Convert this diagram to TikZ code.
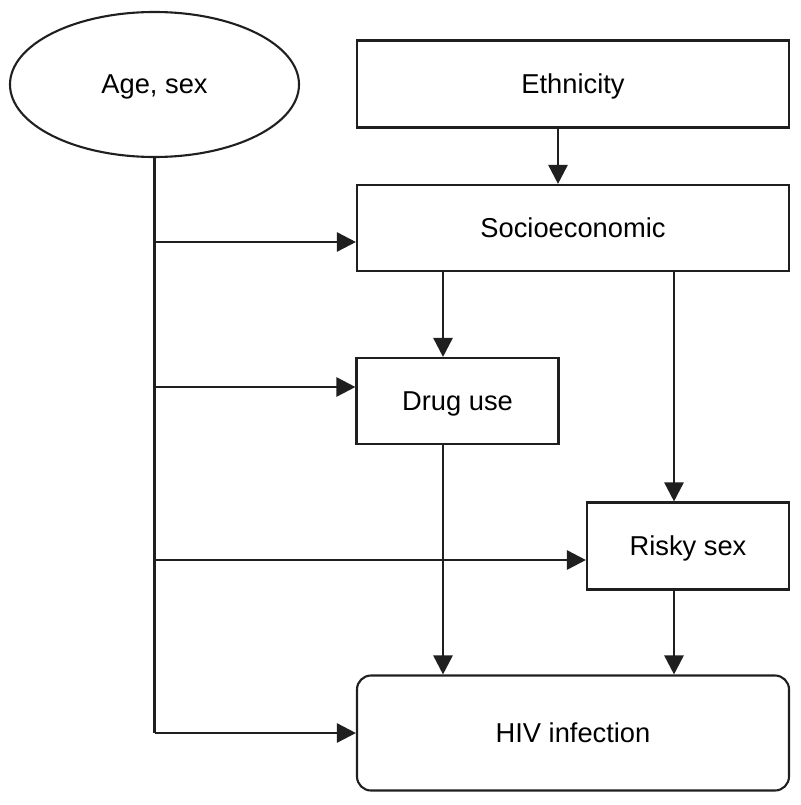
\documentclass[tikz,border=0pt]{standalone}
\usepackage{fontspec}
\setmainfont{Liberation Sans}
\usetikzlibrary{arrows.meta,shapes.geometric}
\begin{document}
\begin{tikzpicture}[x=1pt,y=-1pt,
  box/.style={draw=black!88, line width=2.1pt, inner sep=0pt, text depth=0pt, font=\fontsize{27.3}{32}\selectfont},
  arr/.style={draw=black!88, line width=2.6pt, -{Triangle[length=19pt,width=19pt]}},
  ln/.style={draw=black!88, line width=2.1pt}]
\useasboundingbox[fill=white] (0,0) rectangle (800,805);
\node[box, ellipse, minimum width=289pt, minimum height=145pt] (age) at (154.5,84.5) {Age, sex};
\node[box, minimum width=432pt, minimum height=87pt] (eth) at (573,84) {Ethnicity};
\node[box, minimum width=432pt, minimum height=86pt] (soc) at (573,228) {Socioeconomic};
\node[box, minimum width=202pt, minimum height=86pt] (drug) at (457.5,401) {Drug use};
\node[box, minimum width=202pt, minimum height=87pt] (risk) at (688,546) {Risky sex};
\node[box, rounded corners=14pt, minimum width=432pt, minimum height=115pt] (hiv) at (573,733) {HIV infection};
\coordinate (xe) at (558,0);
\coordinate (xd) at (443,0);
\coordinate (xr) at (674,0);
\coordinate (j1) at (154.5,242);
\coordinate (j2) at (154.5,387);
\coordinate (j3) at (154.5,560);
\coordinate (j4) at (154.5,733);
\draw[ln] (age.south) -- (j4);
\draw[arr] (j1) -- (j1 -| soc.west);
\draw[arr] (j2) -- (j2 -| drug.west);
\draw[arr] (j3) -- (j3 -| risk.west);
\draw[arr] (j4) -- (j4 -| hiv.west);
\draw[arr] (eth.south -| xe) -- (soc.north -| xe);
\draw[arr] (soc.south -| xd) -- (drug.north -| xd);
\draw[arr] (soc.south -| xr) -- (risk.north -| xr);
\draw[arr] (drug.south -| xd) -- (hiv.north -| xd);
\draw[arr] (risk.south -| xr) -- (hiv.north -| xr);
\end{tikzpicture}
\end{document}
